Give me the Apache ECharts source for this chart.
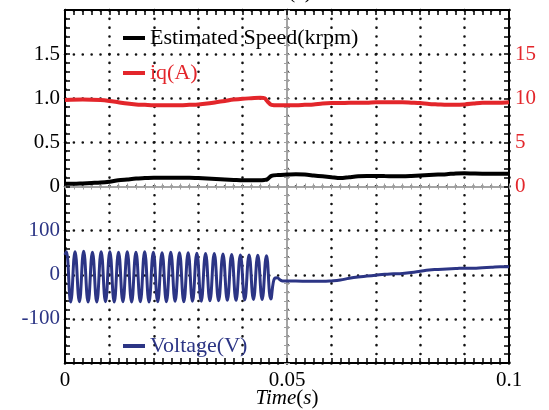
<!DOCTYPE html>
<html><head><meta charset="utf-8">
<script src="https://cdn.jsdelivr.net/npm/echarts@6/dist/echarts.min.js"></script>
<style>html,body{margin:0;padding:0;background:#fff}#c{width:549px;height:410px}</style>
</head><body><div id="c"></div>
<script>
// ---- data ----
var speedT = [0,0.002,0.004,0.006,0.008,0.010,0.012,0.014,0.016,0.018,0.020,0.022,0.024,0.026,0.028,0.030,0.032,0.034,0.036,0.038,0.040,0.042,0.044,0.045,0.0455,0.0465,0.048,0.050,0.052,0.054,0.056,0.058,0.060,0.062,0.064,0.066,0.068,0.070,0.072,0.074,0.076,0.078,0.080,0.082,0.084,0.086,0.088,0.090,0.092,0.094,0.096,0.098,0.100];
var speedV = [0.03,0.03,0.035,0.04,0.045,0.055,0.07,0.08,0.09,0.095,0.10,0.10,0.10,0.10,0.10,0.095,0.09,0.085,0.08,0.075,0.07,0.07,0.07,0.075,0.08,0.12,0.13,0.135,0.14,0.135,0.125,0.115,0.105,0.095,0.105,0.115,0.12,0.12,0.118,0.117,0.117,0.12,0.125,0.13,0.135,0.14,0.148,0.15,0.147,0.145,0.145,0.145,0.145];
var iqT = [0,0.004,0.008,0.010,0.012,0.014,0.016,0.018,0.020,0.022,0.024,0.026,0.028,0.030,0.032,0.034,0.036,0.038,0.040,0.042,0.044,0.045,0.0455,0.0465,0.048,0.050,0.052,0.054,0.056,0.058,0.060,0.062,0.064,0.066,0.068,0.070,0.072,0.074,0.076,0.078,0.080,0.082,0.084,0.086,0.088,0.090,0.092,0.094,0.096,0.098,0.100];
var iqV = [9.8,9.85,9.8,9.7,9.55,9.4,9.3,9.25,9.2,9.2,9.2,9.2,9.25,9.3,9.4,9.55,9.7,9.85,9.95,10.0,10.05,10.0,9.7,9.25,9.2,9.2,9.2,9.25,9.3,9.4,9.45,9.45,9.5,9.5,9.5,9.55,9.55,9.55,9.55,9.5,9.45,9.35,9.3,9.25,9.25,9.3,9.4,9.5,9.5,9.5,9.55];
var voltT = [0,0.0003,0.00128,0.00226,0.00324,0.0042,0.0052,0.00618,0.00716,0.00814,0.00912,0.0101,0.01108,0.01206,0.01304,0.01402,0.015,0.01598,0.01696,0.01794,0.01892,0.0199,0.02088,0.02186,0.02284,0.02382,0.0248,0.02578,0.02676,0.02774,0.02872,0.0297,0.03068,0.03166,0.03264,0.03362,0.0346,0.03558,0.03656,0.03754,0.03852,0.0395,0.04048,0.04146,0.04244,0.04342,0.0444,0.04538,0.04636,0.0472,0.0478,0.0485,0.049,0.052,0.055,0.058,0.060,0.062,0.064,0.066,0.068,0.070,0.072,0.074,0.076,0.078,0.080,0.082,0.084,0.086,0.088,0.090,0.092,0.094,0.096,0.098,0.100];
var voltV = [45,52,-62,52,-61,53,-62,51,-62,52,-61,52,-62,51,-61,52,-62,51,-61,52,-62,51,-61,50,-61,51,-60,50,-61,50,-60,49,-60,48,-59,48,-59,47,-58,46,-58,45,-57,45,-56,44,-56,43,-55,-8,-7,-12,-14,-14,-15,-15,-14,-12,-8,-5,-3,-1,1,2,3,5,8,11,12,13,14,15,15,16,17,18,18];
var xTickLabels = ['0','0.05','0.1'];
var speedLabels = ['0','0.5','1.0','1.5'];
var iqLabels = ['0','5','10','15'];
var voltLabels = ['-100','0','100'];
var names = ['Estimated Speed(krpm)','iq(A)','Voltage(V)'];

function zip(a,b){var r=[];for(var i=0;i<Math.min(a.length,b.length);i++)r.push([a[i],b[i]]);return r;}
var FONT='Liberation Serif';
var RED='#e3262b', NAVY='#2c3585', GRAY='#a0a0a0';
function near(v,arr){for(var i=0;i<arr.length;i++){if(Math.abs(parseFloat(arr[i])-v)<1e-9)return arr[i];}return '';}

var dotX={type:[0.01,8.81],width:2.6,color:'#111',cap:'round'};
var dotY={type:[0.01,8.87],width:2.6,color:'#111',cap:'round'};
var mainTick={show:true,inside:true,length:5,lineStyle:{color:'#000',width:1.5}};
var mainMinor={show:true,splitNumber:5,length:5,lineStyle:{color:'#000',width:1.5}};
var grayTick={show:true,inside:true,length:3,lineStyle:{color:GRAY,width:1}};
var grayMinor={show:true,splitNumber:5,length:3,lineStyle:{color:GRAY,width:1}};

var chart=echarts.init(document.getElementById('c'),null,{renderer:'canvas'});
chart.setOption({
  animation:false,
  backgroundColor:'#fff',
  grid:{left:65,right:40,top:10,bottom:47,containLabel:false,outerBoundsMode:'none'},
  graphic:[{type:'text',style:{text:'(c)',x:300,y:-18,font:'21px "Liberation Serif"',fill:'#000',textAlign:'center'}}],
  legend:[
    {data:[names[0]],left:118,top:22,icon:'rect',itemWidth:22,itemHeight:4,itemGap:0,textStyle:{fontFamily:FONT,fontSize:22,color:'#000'}},
    {data:[names[1]],left:118,top:57,icon:'rect',itemWidth:22,itemHeight:4,itemGap:0,textStyle:{fontFamily:FONT,fontSize:22,color:RED}},
    {data:[names[2]],left:118,top:330,icon:'rect',itemWidth:22,itemHeight:4,itemGap:0,textStyle:{fontFamily:FONT,fontSize:22,color:NAVY}}
  ],
  xAxis:[
    {type:'value',position:'bottom',min:0,max:0.1,interval:0.01,
     axisLine:{onZero:false,lineStyle:{color:'#000',width:2}},axisTick:mainTick,minorTick:mainMinor,
     axisLabel:{margin:7,fontFamily:FONT,fontSize:21,color:'#000',formatter:function(v){return near(v,xTickLabels);}},
     splitLine:{show:true,lineStyle:dotX},
     name:'{i|Time}{n|(}{i|s}{n|)}',nameLocation:'middle',nameGap:25,nameMoveOverlap:false,
     nameTextStyle:{verticalAlign:'top',rich:{i:{fontFamily:FONT,fontSize:21,fontStyle:'italic',color:'#000'},n:{fontFamily:FONT,fontSize:21,color:'#000'}}}},
    {type:'value',position:'top',min:0,max:0.1,interval:0.01,
     axisLine:{onZero:false,lineStyle:{color:'#000',width:2}},axisTick:mainTick,minorTick:mainMinor,
     axisLabel:{show:false},splitLine:{show:false}},
    {type:'value',position:'bottom',min:0,max:0.1,interval:0.01,
     axisLine:{onZero:true,onZeroAxisIndex:0,lineStyle:{color:GRAY,width:1.5}},axisTick:grayTick,minorTick:grayMinor,
     axisLabel:{show:false},splitLine:{show:false}},
    {type:'value',position:'top',min:0,max:0.1,interval:0.01,
     axisLine:{onZero:true,onZeroAxisIndex:0,lineStyle:{color:GRAY,width:1.5}},axisTick:grayTick,minorTick:grayMinor,
     axisLabel:{show:false},splitLine:{show:false}},
    {type:'value',position:'bottom',min:-0.05,max:0.05,interval:0.01,
     axisLine:{show:false,onZero:false},axisTick:{show:false},axisLabel:{show:false},splitLine:{show:false}}
  ],
  yAxis:[
    {type:'value',position:'left',min:-2,max:2,interval:0.5,
     axisLine:{show:true,onZero:false,lineStyle:{color:'#000',width:2}},axisTick:mainTick,minorTick:mainMinor,
     axisLabel:{margin:5,fontFamily:FONT,fontSize:21,color:'#000',formatter:function(v){return (v>=0&&v<2)?near(v,speedLabels):'';}},
     splitLine:{show:true,lineStyle:dotY}},
    {type:'value',position:'right',min:-20,max:20,interval:5,
     axisLine:{show:true,onZero:false,lineStyle:{color:'#000',width:2}},axisTick:mainTick,minorTick:mainMinor,
     axisLabel:{margin:6,fontFamily:FONT,fontSize:21,color:RED,formatter:function(v){return (v>=0&&v<20)?near(v,iqLabels):'';}},
     splitLine:{show:false}},
    {type:'value',position:'left',min:-200,max:600,interval:100,
     axisLine:{show:false,onZero:false},axisTick:{show:false},
     axisLabel:{margin:5,fontFamily:FONT,fontSize:21,color:NAVY,formatter:function(v){return (v>=-100&&v<=100)?near(v,voltLabels):'';}},
     splitLine:{show:false}},
    {type:'value',position:'left',min:-2,max:2,interval:0.5,
     axisLine:{show:true,onZero:true,onZeroAxisIndex:4,lineStyle:{color:GRAY,width:1.5}},axisTick:grayTick,minorTick:grayMinor,
     axisLabel:{show:false},splitLine:{show:false}},
    {type:'value',position:'right',min:-2,max:2,interval:0.5,
     axisLine:{show:true,onZero:true,onZeroAxisIndex:4,lineStyle:{color:GRAY,width:1.5}},axisTick:grayTick,minorTick:grayMinor,
     axisLabel:{show:false},splitLine:{show:false}}
  ],
  series:[
    {name:names[2],type:'line',xAxisIndex:0,yAxisIndex:2,data:zip(voltT,voltV),showSymbol:false,smooth:0.45,
     lineStyle:{color:NAVY,width:3},itemStyle:{color:NAVY},z:3},
    {name:names[0],type:'line',xAxisIndex:0,yAxisIndex:0,data:zip(speedT,speedV),showSymbol:false,smooth:0.3,
     lineStyle:{color:'#000',width:4},itemStyle:{color:'#000'},z:4},
    {name:names[1],type:'line',xAxisIndex:0,yAxisIndex:1,data:zip(iqT,iqV),showSymbol:false,smooth:0.3,
     lineStyle:{color:RED,width:4},itemStyle:{color:RED},z:4}
  ]
});
</script></body></html>
